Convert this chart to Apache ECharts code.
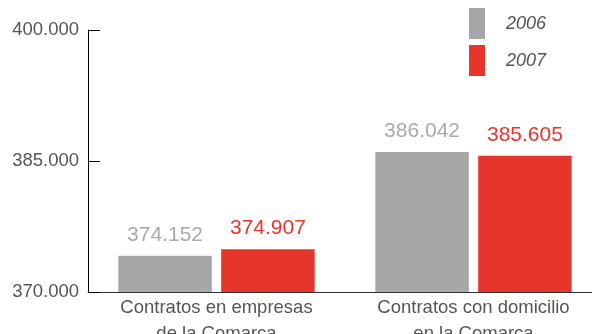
<!DOCTYPE html>
<html>
<head>
<meta charset="utf-8">
<script src="https://cdn.jsdelivr.net/npm/echarts@6/dist/echarts.min.js"></script>
<style>
  html, body { margin: 0; padding: 0; background: #fff; }
  #chart { width: 592px; height: 334px; }
</style>
</head>
<body>
<div id="chart"></div>
<script>
// Contract counts by category, 2006 vs 2007 (thousands separator is a dot)
const categories = ['Contratos en empresas\nde la Comarca', 'Contratos con domicilio\nen la Comarca'];
const seriesNames = ['2006', '2007'];
const values2006 = [374.152, 386.042];
const values2007 = [374.907, 385.605];
const yTicks = [370, 385, 400];

const GRAY = '#a6a7a9';
const RED = '#e5352d';
const FONT = '"Liberation Sans", Arial, sans-serif';

function fmt(v) { return v.toFixed(3); }

const chart = echarts.init(document.getElementById('chart'), null, { renderer: 'canvas' });

chart.setOption({
  animation: false,
  backgroundColor: '#ffffff',
  grid: {
    left: 88, top: 30, width: 514, bottom: 42,
    containLabel: false, outerBoundsMode: 'none'
  },
  legend: {
    orient: 'vertical',
    left: 464,
    top: 3,
    itemWidth: 16,
    itemHeight: 31,
    itemGap: 6,
    icon: 'rect',
    selectedMode: false,
    textStyle: {
      fontFamily: FONT, fontSize: 18, fontStyle: 'italic', color: '#555555',
      padding: [0, 0, 0, 16]
    },
    data: seriesNames
  },
  xAxis: {
    type: 'category',
    data: categories,
    axisLine: { lineStyle: { color: '#333333', width: 1 } },
    axisTick: { show: false },
    axisLabel: {
      fontFamily: FONT, fontSize: 18.5, color: '#555555', lineHeight: 26, margin: 3,
      interval: 0
    }
  },
  yAxis: {
    type: 'value',
    min: yTicks[0],
    max: yTicks[yTicks.length - 1],
    interval: yTicks[1] - yTicks[0],
    splitLine: { show: false },
    axisLine: { show: true, lineStyle: { color: '#000000', width: 1 } },
    axisTick: { show: true, inside: true, length: 12, lineStyle: { color: '#000000', width: 1 } },
    axisLabel: {
      fontFamily: FONT, fontSize: 18.5, color: '#555555', margin: 9,
      formatter: v => fmt(v)
    }
  },
  series: [
    {
      name: seriesNames[0],
      type: 'bar',
      data: values2006,
      barWidth: 93.5,
      barGap: '10%',
      itemStyle: { color: GRAY },
      label: {
        show: true, position: 'top', distance: 10,
        fontFamily: FONT, fontSize: 21, color: '#a9a9a9',
        formatter: p => fmt(p.value)
      }
    },
    {
      name: seriesNames[1],
      type: 'bar',
      data: values2007,
      barWidth: 93.5,
      barGap: '10%',
      itemStyle: { color: RED },
      label: {
        show: true, position: 'top', distance: 10,
        fontFamily: FONT, fontSize: 21, color: '#e8352e',
        formatter: p => fmt(p.value)
      }
    }
  ]
});
</script>
</body>
</html>
